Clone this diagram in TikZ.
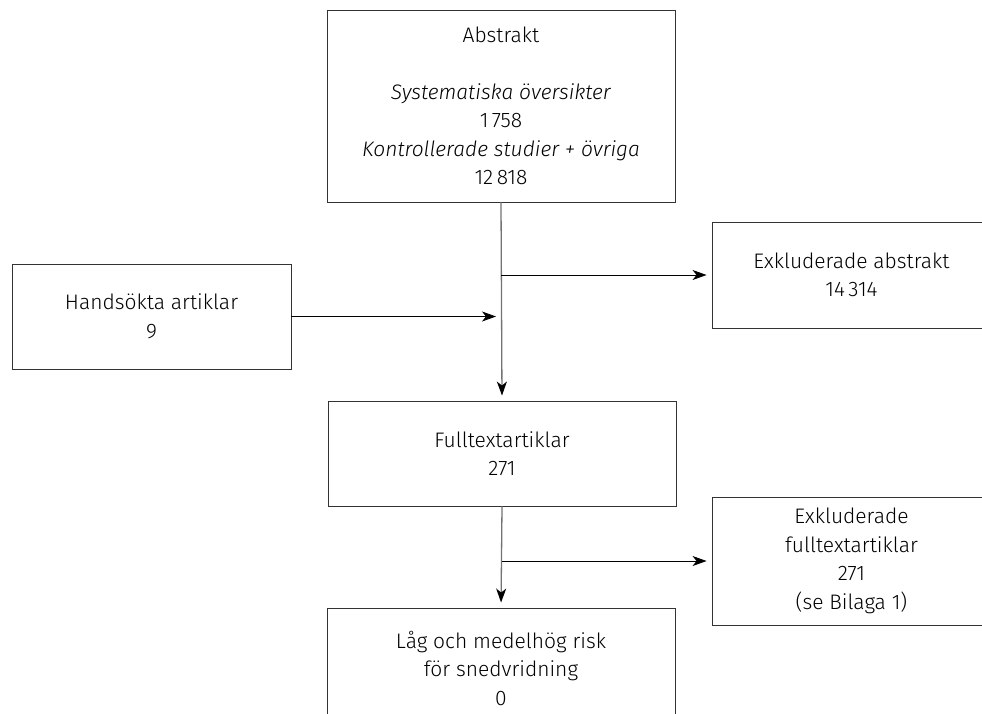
\documentclass[tikz,border=0pt]{standalone}
\usepackage{fontspec}
\setmainfont{Fira Sans}[UprightFont=* Light, ItalicFont=* Light Italic]
\usetikzlibrary{arrows.meta}
\begin{document}
\begin{tikzpicture}[x=1pt,y=-1pt,
  box/.style={draw=black!80, line width=0.9pt, rectangle, align=center, inner sep=0pt,
    font=\fontsize{21}{28.5}\selectfont},
  tip/.style={-{Stealth[length=14pt,width=10pt,inset=4pt,color=black]}, shorten >=5pt},
  vlink/.style={tip, draw=black!55, line width=1.3pt},
  hlink/.style={tip, draw=black, line width=0.8pt}]
\clip (0,0) rectangle (982,713);
\fill[white] (0,0) rectangle (982,713);
\node[box, minimum width=348pt, minimum height=192pt] (abs) at (501,106)
  {Abstrakt\\[28.5pt]\textit{Systematiska översikter}\\1\,758\\\textit{Kontrollerade studier + övriga}\\12\,818};
\node[box, minimum width=279pt, minimum height=105pt] (hand) at (151.5,316.5)
  {Handsökta artiklar\\9};
\node[box, minimum width=279pt, minimum height=106pt] (exa) at (851.5,275)
  {Exkluderade abstrakt\\14\,314};
\node[box, minimum width=348pt, minimum height=105pt] (full) at (502,453.5)
  {Fulltextartiklar\\271};
\node[box, minimum width=279pt, minimum height=128pt] (exf) at (851.5,561)
  {Exkluderade\\fulltextartiklar\\271\\(se Bilaga 1)};
\node[box, minimum width=348pt, minimum height=120pt] (low) at (501,668)
  {Låg och medelhög risk\\för snedvridning\\0};
\coordinate (b1) at (abs.south |- exa.west);
\coordinate (j1) at (abs.south |- hand.east);
\coordinate (b2) at (full.south |- exf.west);
\draw[vlink] (abs.south) -- (full.north);
\draw[hlink] (b1) -- (exa.west);
\draw[hlink] (hand.east) -- (j1);
\draw[vlink] (full.south) -- (low.north);
\draw[hlink] (b2) -- (exf.west);
\end{tikzpicture}
\end{document}
